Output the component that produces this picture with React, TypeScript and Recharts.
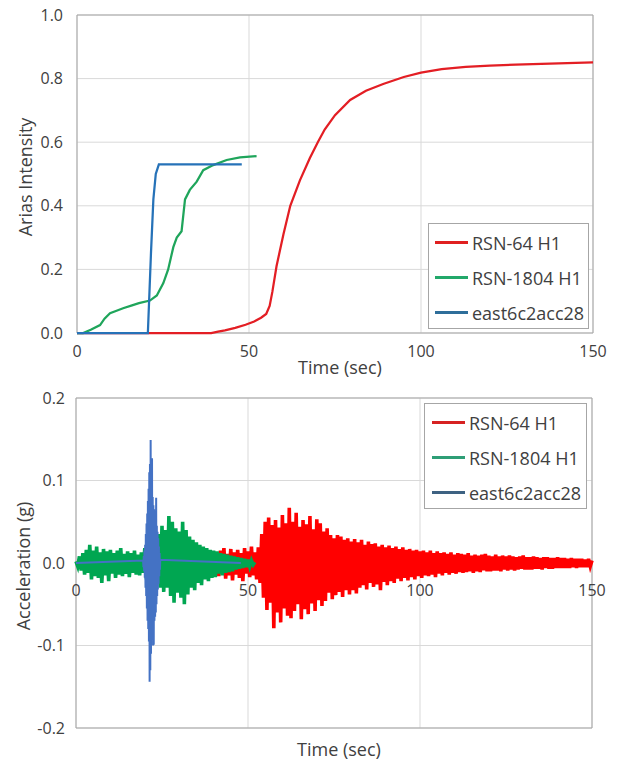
import {
  CartesianGrid,
  Legend,
  Line,
  LineChart,
  ReferenceArea,
  XAxis,
  YAxis,
} from "recharts";

const FONT = '"Open Sans", "Noto Sans", sans-serif';
const TEXT = "#404040";
const GRID = "#d9d9d9";
const FRAME = "#a6a6a6";

const seriesNames = ["RSN-64 H1", "RSN-1804 H1", "east6c2acc28"];
const timeTicks = [0, 50, 100, 150];
const ariasTicks = [0, 0.2, 0.4, 0.6, 0.8, 1];
const accelTicks = [-0.2, -0.1, 0, 0.1, 0.2];

// --- Arias intensity ---
const rsn64AriasT = [0, 39, 41, 43, 46, 49, 51.5, 53.5, 55, 56, 56.8, 58, 60, 62, 64.8, 67.7, 70, 72, 75, 79.4, 84, 89, 95, 100, 106, 113, 120, 127.5, 140, 150];
const rsn64AriasI = [0, 0, 0.004, 0.008, 0.016, 0.026, 0.036, 0.048, 0.06, 0.085, 0.13, 0.21, 0.31, 0.4, 0.48, 0.55, 0.6, 0.64, 0.685, 0.733, 0.762, 0.783, 0.805, 0.819, 0.83, 0.837, 0.841, 0.844, 0.848, 0.851];

const rsn1804AriasT = [0, 1.8, 4, 6.7, 8, 9.6, 11.5, 13.4, 16, 18, 21.2, 23.2, 25.1, 26.5, 28, 29, 30.4, 31.4, 32.8, 34.8, 36.7, 39.6, 43.5, 47.4, 52.2];
const rsn1804AriasI = [0, 0, 0.01, 0.025, 0.045, 0.062, 0.07, 0.078, 0.087, 0.094, 0.102, 0.118, 0.157, 0.2, 0.27, 0.3, 0.32, 0.42, 0.45, 0.476, 0.512, 0.528, 0.544, 0.552, 0.556];

const eastAriasT = [0, 20.6, 21.5, 22.2, 22.9, 23.8, 47.9];
const eastAriasI = [0, 0, 0.25, 0.42, 0.5, 0.53, 0.53];

// --- acceleration records (peaks) ---
const rsn64AccStart = 37;
const rsn64AccStep = 0.5;
const rsn64Acc = [
  0.003, -0.005, 0.006, -0.008, 0.009, -0.011, 0.012, -0.014, 0.01, -0.016,
  0.015, -0.012, 0.018, -0.019, 0.011, -0.015, 0.017, -0.021, 0.013, -0.014,
  0.016, -0.018, 0.012, -0.022, 0.018, -0.013, 0.014, -0.017, 0.02, -0.015,
  0.013, -0.02, 0.019, -0.024, 0.035, -0.042, 0.05, -0.057, 0.055, -0.048,
  0.046, -0.079, 0.052, -0.06, 0.043, -0.072, 0.058, -0.055, 0.048, -0.064,
  0.067, -0.067, 0.05, -0.058, 0.061, -0.05, 0.044, -0.068, 0.052, -0.056,
  0.047, -0.062, 0.057, -0.049, 0.041, -0.058, 0.053, -0.045, 0.048, -0.052,
  0.038, -0.046, 0.042, -0.036, 0.034, -0.044, 0.03, -0.039, 0.034, -0.035,
  0.032, -0.041, 0.028, -0.033, 0.03, -0.038, 0.026, -0.033, 0.029, -0.037,
  0.025, -0.03, 0.028, -0.027, 0.022, -0.032, 0.026, -0.024, 0.023, -0.029,
  0.024, -0.026, 0.02, -0.033, 0.022, -0.023, 0.019, -0.027, 0.021, -0.022,
  0.018, -0.024, 0.02, -0.019, 0.017, -0.022, 0.019, -0.018, 0.016, -0.021,
  0.017, -0.017, 0.015, -0.02, 0.016, -0.016, 0.014, -0.018, 0.015, -0.015,
  0.013, -0.016, 0.015, -0.014, 0.012, -0.017, 0.014, -0.013, 0.012, -0.015,
  0.013, -0.012, 0.011, -0.014, 0.013, -0.012, 0.01, -0.013, 0.012, -0.011,
  0.011, -0.012, 0.01, -0.011, 0.012, -0.01, 0.009, -0.012, 0.01, -0.01,
  0.009, -0.011, 0.01, -0.009, 0.011, -0.01, 0.009, -0.01, 0.008, -0.009,
  0.01, -0.009, 0.008, -0.01, 0.009, -0.008, 0.008, -0.009, 0.009, -0.008,
  0.008, -0.009, 0.007, -0.008, 0.008, -0.007, 0.009, -0.008, 0.007, -0.008,
  0.007, -0.008, 0.008, -0.007, 0.007, -0.007, 0.006, -0.008, 0.007, -0.006,
  0.007, -0.007, 0.006, -0.007, 0.006, -0.006, 0.007, -0.006, 0.006, -0.006,
  0.006, -0.006, 0.005, -0.006, 0.006, -0.005, 0.005, -0.006, 0.005, -0.005,
  0.005, -0.005, 0.004, -0.005, 0.005, -0.004, 0.003,
];

const rsn1804AccStart = 0;
const rsn1804AccStep = 0.5;
const rsn1804Acc = [
  0.002, -0.004, 0.008, -0.009, 0.012, -0.014, 0.016, -0.012, 0.022, -0.02,
  0.015, -0.016, 0.02, -0.018, 0.013, -0.024, 0.017, -0.015, 0.014, -0.022,
  0.016, -0.013, 0.012, -0.018, 0.015, -0.014, 0.018, -0.016, 0.011, -0.013,
  0.014, -0.017, 0.012, -0.012, 0.015, -0.014, 0.01, -0.015, 0.013, -0.012,
  0.018, -0.02, 0.025, -0.022, 0.02, -0.028, 0.03, -0.025, 0.035, -0.03,
  0.045, -0.035, 0.04, -0.03, 0.057, -0.04, 0.05, -0.048, 0.042, -0.036,
  0.038, -0.042, 0.05, -0.05, 0.04, -0.038, 0.032, -0.03, 0.028, -0.033,
  0.025, -0.024, 0.022, -0.027, 0.02, -0.02, 0.018, -0.022, 0.016, -0.018,
  0.015, -0.017, 0.014, -0.013, 0.012, -0.015, 0.011, -0.012, 0.01, -0.011,
  0.009, -0.01, 0.008, -0.008, 0.007, -0.007, 0.006, -0.006, 0.005, -0.005,
  0.004, -0.004, 0.003, -0.002, 0.001,
];

// east6c2acc28 is flat before and after its short burst
const eastQuietT = [0, 47.9];
const eastBurstStart = 19.5;
const eastBurstStep = 0.1;
const eastBurst = [
  0.003, -0.005, 0.008, -0.01, 0.015, -0.018, 0.022, -0.03, 0.035, -0.04,
  0.048, -0.055, 0.06, -0.07, 0.075, -0.08, 0.09, -0.095, 0.11, -0.144,
  0.12, -0.13, 0.149, -0.11, 0.095, -0.085, 0.127, -0.09, 0.08, -0.1,
  0.07, -0.099, 0.065, -0.07, 0.06, -0.065, 0.055, -0.06, 0.079, -0.05,
  0.045, -0.04, 0.038, -0.032, 0.03, -0.025, 0.02, -0.016, 0.012, -0.008,
  0.004,
];

const zip = (ts: number[], vs: number[]) => ts.map((t, i) => ({ t, v: vs[i] }));
const sampled = (start: number, step: number, vs: number[]) =>
  vs.map((v, i) => ({ t: Math.round((start + i * step) * 1000) / 1000, v }));

const rsn64Arias = zip(rsn64AriasT, rsn64AriasI);
const rsn1804Arias = zip(rsn1804AriasT, rsn1804AriasI);
const eastArias = zip(eastAriasT, eastAriasI);

const rsn64Accel = sampled(rsn64AccStart, rsn64AccStep, rsn64Acc);
const rsn1804Accel = sampled(rsn1804AccStart, rsn1804AccStep, rsn1804Acc);
const eastAccel = [
  { t: eastQuietT[0], v: 0 },
  ...sampled(eastBurstStart, eastBurstStep, eastBurst),
  { t: eastQuietT[1], v: 0 },
];

const tickStyle = { fill: TEXT, fontSize: 16, fontFamily: FONT };

function LegendBox({ colors, padLeft }: { colors: string[]; padLeft: number }) {
  return (
    <div
      style={{
        width: "100%",
        height: "100%",
        boxSizing: "border-box",
        border: `1px solid ${FRAME}`,
        background: "#fff",
        paddingTop: 1,
        paddingLeft: padLeft,
      }}
    >
      {seriesNames.map((name, i) => (
        <div key={name} style={{ display: "flex", alignItems: "center", height: 35 }}>
          <span
            style={{ display: "inline-block", width: 33, height: 3, background: colors[i], marginRight: 4 }}
          />
          <span style={{ fontFamily: FONT, fontSize: 18, color: TEXT, whiteSpace: "nowrap" }}>{name}</span>
        </div>
      ))}
    </div>
  );
}

const yTitle = (text: string, x: number) => (props: any) => {
  const { viewBox } = props;
  const cy = viewBox.y + viewBox.height / 2 + 3;
  return (
    <text
      x={x}
      y={cy}
      transform={`rotate(-90, ${x}, ${cy})`}
      textAnchor="middle"
      dominantBaseline="central"
      fill={TEXT}
      fontSize={18}
      fontFamily={FONT}
    >
      {text}
    </text>
  );
};

// Excel puts the time labels next to the zero line, not at the bottom
const ZeroLineTick = (props: any) => {
  const { x, y, payload } = props;
  return (
    <text x={x} y={y} dy={-138} textAnchor="middle" fill={TEXT} fontSize={16} fontFamily={FONT}>
      {payload.value}
    </text>
  );
};

function AriasChart() {
  return (
    <LineChart width={620} height={380} margin={{ top: 15, right: 27, bottom: 0, left: 0 }}>
      <CartesianGrid stroke={GRID} />
      <ReferenceArea x1={0} x2={150} y1={0} y2={1} fill="none" stroke={FRAME} strokeWidth={1} />
      <XAxis
        type="number"
        dataKey="t"
        domain={[0, 150]}
        ticks={timeTicks}
        allowDuplicatedCategory={false}
        tickLine={false}
        axisLine={false}
        tick={tickStyle}
        tickMargin={7}
        height={47}
        label={{ value: "Time (sec)", position: "insideBottom", offset: 6, dx: 5, fill: TEXT, fontSize: 18, fontFamily: FONT }}
      />
      <YAxis
        type="number"
        domain={[0, 1]}
        ticks={ariasTicks}
        tickFormatter={(v: number) => v.toFixed(1)}
        tickLine={false}
        axisLine={false}
        tick={tickStyle}
        tickMargin={8}
        width={77}
        label={{ content: yTitle("Arias Intensity", 25) }}
      />
      <Legend
        layout="vertical"
        align="center"
        verticalAlign="middle"
        wrapperStyle={{ left: 428, top: 223, width: 161, height: 106 }}
        content={() => <LegendBox colors={["#e02020", "#22a86a", "#2e6e9a"]} padLeft={6} />}
      />
      <Line data={rsn64Arias} dataKey="v" name={seriesNames[0]} stroke="#e31e24" strokeWidth={2.25} dot={false} isAnimationActive={false} />
      <Line data={rsn1804Arias} dataKey="v" name={seriesNames[1]} stroke="#1fa55b" strokeWidth={2.25} dot={false} isAnimationActive={false} />
      <Line data={eastArias} dataKey="v" name={seriesNames[2]} stroke="#2672b8" strokeWidth={2.25} dot={false} isAnimationActive={false} />
    </LineChart>
  );
}

function AccelChart() {
  return (
    <LineChart width={620} height={381} margin={{ top: 18, right: 28, bottom: 0, left: 0 }}>
      <CartesianGrid stroke={GRID} />
      <ReferenceArea x1={0} x2={150} y1={-0.2} y2={0.2} fill="none" stroke={FRAME} strokeWidth={1} />
      <XAxis
        type="number"
        dataKey="t"
        domain={[0, 150]}
        ticks={timeTicks}
        allowDuplicatedCategory={false}
        tickLine={false}
        axisLine={false}
        tick={<ZeroLineTick />}
        tickMargin={0}
        height={33}
        label={{ value: "Time (sec)", position: "insideBottom", offset: 5, dx: 5, fill: TEXT, fontSize: 18, fontFamily: FONT }}
      />
      <YAxis
        type="number"
        domain={[-0.2, 0.2]}
        ticks={accelTicks}
        tickFormatter={(v: number) => v.toFixed(1)}
        tickLine={false}
        axisLine={false}
        tick={tickStyle}
        tickMargin={5}
        width={76}
        label={{ content: yTitle("Acceleration (g)", 23) }}
      />
      <Legend
        layout="vertical"
        align="center"
        verticalAlign="middle"
        wrapperStyle={{ left: 424, top: 23, width: 163, height: 106 }}
        content={() => <LegendBox colors={["#d62222", "#2e9e76", "#3e6282"]} padLeft={7} />}
      />
      <Line data={rsn64Accel} dataKey="v" name={seriesNames[0]} stroke="#ff0000" strokeWidth={3.6} strokeLinejoin="miter" dot={false} isAnimationActive={false} />
      <Line data={rsn1804Accel} dataKey="v" name={seriesNames[1]} stroke="#00a651" strokeWidth={3.6} strokeLinejoin="miter" dot={false} isAnimationActive={false} />
      <Line data={eastAccel} dataKey="v" name={seriesNames[2]} stroke="#4472c4" strokeWidth={2} strokeLinejoin="miter" dot={false} isAnimationActive={false} />
    </LineChart>
  );
}

export default function App() {
  return (
    <div style={{ position: "absolute", top: 0, left: 0, width: 620, height: 761, background: "#fff" }}>
      <div style={{ position: "absolute", top: 0, left: 0 }}>
        <AriasChart />
      </div>
      <div style={{ position: "absolute", top: 380, left: 0 }}>
        <AccelChart />
      </div>
    </div>
  );
}
